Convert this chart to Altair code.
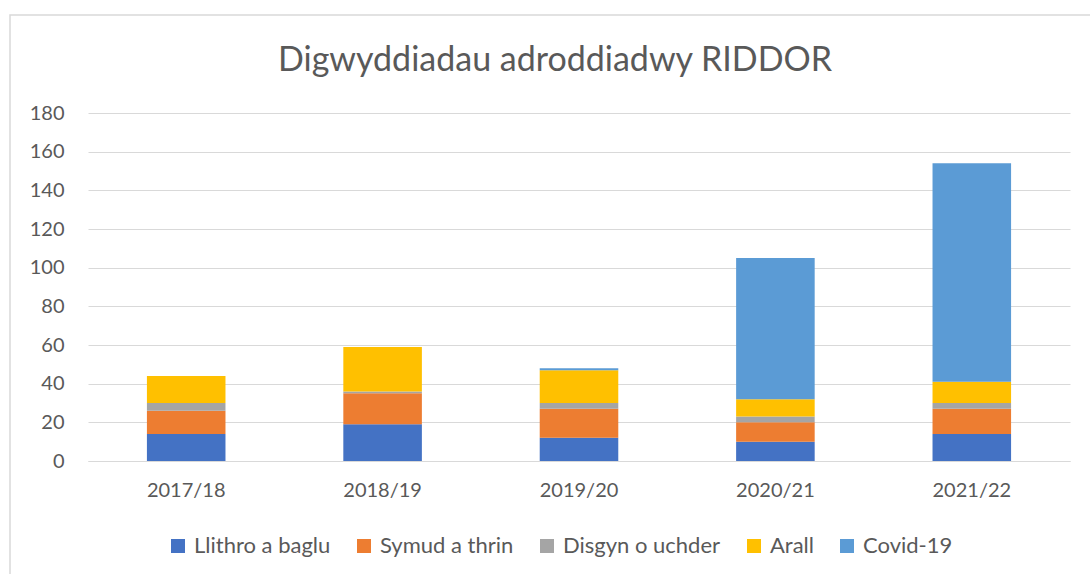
import altair as alt
import pandas as pd

title_text = "Digwyddiadau adroddiadwy RIDDOR"
years = ["2017/18", "2018/19", "2019/20", "2020/21", "2021/22"]
categories = ["Llithro a baglu", "Symud a thrin", "Disgyn o uchder", "Arall", "Covid-19"]
colors = ["#4472C4", "#ED7D31", "#A5A5A5", "#FFC000", "#5B9BD5"]
llithro = [14, 19, 12, 10, 14]
symud = [12, 16, 15, 10, 13]
disgyn = [4, 1, 3, 3, 3]
arall = [14, 23, 17, 9, 11]
covid = [0, 0, 1, 73, 113]

series = [llithro, symud, disgyn, arall, covid]
rows = []
for ci, (cat, vals) in enumerate(zip(categories, series)):
    for y, v in zip(years, vals):
        rows.append({"year": y, "cat": cat, "value": v, "ord": ci})
df = pd.DataFrame(rows)

FONT = "Lato"
GREY = "#595959"

bars = alt.Chart(df).mark_bar().encode(
    x=alt.X("year:N", sort=years, title=None,
            scale=alt.Scale(paddingInner=0.6, paddingOuter=0.3),
            axis=alt.Axis(labelAngle=0, ticks=False, domainColor="#d9d9d9",
                          labelColor=GREY, labelFontSize=20, labelFont=FONT,
                          labelPadding=19, grid=False)),
    y=alt.Y("value:Q", title=None, stack="zero",
            scale=alt.Scale(domain=[0, 180]),
            axis=alt.Axis(values=list(range(0, 181, 20)), ticks=False, domain=False,
                          labelColor=GREY, labelFontSize=20, labelFont=FONT,
                          labelPadding=24, gridColor="#d9d9d9")),
    color=alt.Color("cat:N", sort=categories,
                    scale=alt.Scale(domain=categories, range=colors),
                    legend=alt.Legend(title=None, orient="none", direction="horizontal",
                                      legendX=79, legendY=422, padding=0,
                                      symbolType="square", symbolSize=196,
                                      symbolStrokeWidth=0, labelOffset=5,
                                      labelFontSize=22, labelFont=FONT, labelColor=GREY,
                                      columnPadding=22)),
    order=alt.Order("ord:Q"),
)

one = pd.DataFrame({"a": [0]})
border = alt.Chart(one).mark_rect(
    fill=None, stroke="#d9d9d9", strokeWidth=1.5, clip=False
).encode(x=alt.value(-78), x2=alt.value(1010), y=alt.value(-98), y2=alt.value(470))

title = alt.Chart(one).mark_text(
    font=FONT, fontSize=34, color=GREY, align="center", baseline="alphabetic"
).encode(x=alt.value(467), y=alt.value(-42), text=alt.value(title_text))

chart = alt.layer(border, bars, title).properties(
    width=982, height=348,
    autosize=alt.AutoSizeParams(type="none"),
    padding={"left": 88, "top": 113, "right": 20, "bottom": 113},
    background="white",
).configure_view(stroke=None)

chart.save("out.html", embed_options={"renderer": "svg", "actions": False})
